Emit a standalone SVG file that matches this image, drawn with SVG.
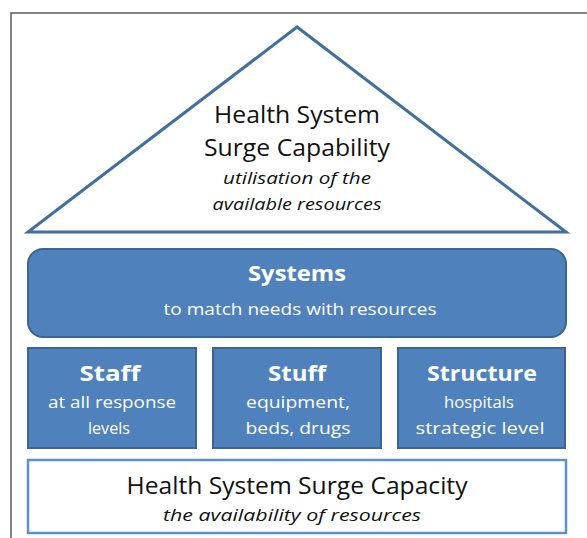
<svg xmlns="http://www.w3.org/2000/svg" width="587" height="538" viewBox="0 0 587 538">
  <style>
    .frame { fill: none; stroke: #5a5a5a; stroke-width: 1.5; }
    .roof { fill: #ffffff; stroke: #41709e; stroke-width: 3; stroke-linejoin: miter; }
    .block { fill: #4f81bd; stroke: #3a6594; stroke-width: 2; }
    .base { fill: #ffffff; stroke: #5b8fd0; stroke-width: 2.5; }
    text { font-family: "Open Sans", "Noto Sans", "Liberation Sans", sans-serif; text-anchor: middle; }
    .head { font-size: 24px; fill: #111111; }
    .sub { font-size: 17px; font-style: italic; fill: #111111; }
    .title { font-size: 22px; font-weight: bold; fill: #ffffff; }
    .desc { font-size: 17px; fill: #ffffff; }
  </style>

  <!-- page frame -->
  <path class="frame" d="M11,538 V13 H587"/>

  <g id="capability">
    <polygon class="roof" points="297,27 28,232 566,232"/>
    <text class="head" x="297" y="123" textLength="166" lengthAdjust="spacingAndGlyphs">Health System</text>
    <text class="head" x="297" y="156" textLength="186" lengthAdjust="spacingAndGlyphs">Surge Capability</text>
    <text class="sub" x="297" y="184" textLength="148" lengthAdjust="spacingAndGlyphs">utilisation of the</text>
    <text class="sub" x="297" y="210" textLength="169" lengthAdjust="spacingAndGlyphs">available resources</text>
  </g>

  <g id="systems">
    <rect class="block" x="28" y="249" width="538" height="88" rx="15" ry="15"/>
    <text class="title" x="297" y="281" textLength="98" lengthAdjust="spacingAndGlyphs">Systems</text>
    <text class="desc" x="300" y="315" textLength="273" lengthAdjust="spacingAndGlyphs">to match needs with resources</text>
  </g>

  <g id="staff">
    <rect class="block" x="28" y="348" width="168" height="100"/>
    <text class="title" x="110" y="381" textLength="61" lengthAdjust="spacingAndGlyphs">Staff</text>
    <text class="desc" x="112" y="408" textLength="128" lengthAdjust="spacingAndGlyphs">at all response</text>
    <text class="desc" x="109" y="434" textLength="42" lengthAdjust="spacingAndGlyphs">levels</text>
  </g>

  <g id="stuff">
    <rect class="block" x="213" y="348" width="168" height="100"/>
    <text class="title" x="297" y="381" textLength="58" lengthAdjust="spacingAndGlyphs">Stuff</text>
    <text class="desc" x="298" y="408" textLength="104" lengthAdjust="spacingAndGlyphs">equipment,</text>
    <text class="desc" x="298" y="434" textLength="105" lengthAdjust="spacingAndGlyphs">beds, drugs</text>
  </g>

  <g id="structure">
    <rect class="block" x="398" y="348" width="167" height="100"/>
    <text class="title" x="482" y="381" textLength="110" lengthAdjust="spacingAndGlyphs">Structure</text>
    <text class="desc" x="479" y="408" textLength="70" lengthAdjust="spacingAndGlyphs">hospitals</text>
    <text class="desc" x="480" y="434" textLength="129" lengthAdjust="spacingAndGlyphs">strategic level</text>
  </g>

  <g id="capacity">
    <rect class="base" x="28" y="460" width="538" height="73"/>
    <text class="head" x="297" y="494" textLength="341" lengthAdjust="spacingAndGlyphs">Health System Surge Capacity</text>
    <text class="sub" x="292" y="521" textLength="258" lengthAdjust="spacingAndGlyphs">the availability of resources</text>
  </g>

  <!-- no connectors in this layered layout -->
  <g id="connectors"/>
</svg>
